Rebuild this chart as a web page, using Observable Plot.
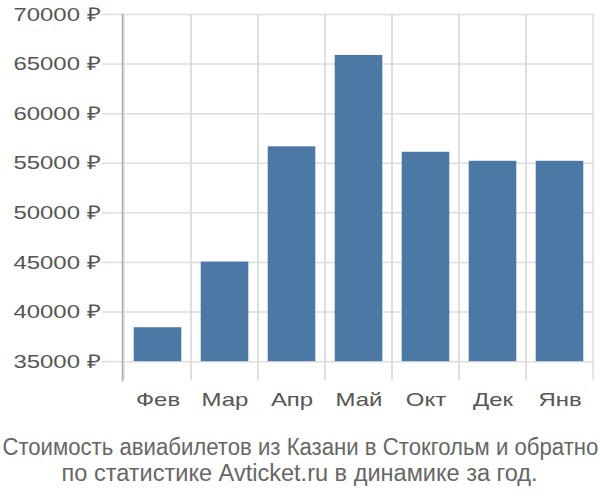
<!DOCTYPE html>
<html>
<head>
<meta charset="utf-8">
<script src="https://cdn.jsdelivr.net/npm/d3@7"></script>
<script src="https://cdn.jsdelivr.net/npm/@observablehq/plot@0.6"></script>
<style>
  html, body { margin: 0; padding: 0; background: #fff; }
  #chart svg { display: block; }
  #caption {
    width: 600px;
    margin-top: 14px;
    font-family: "Liberation Sans", Arial, sans-serif;
    font-size: 23px;
    line-height: 26px;
    color: #666;
  }
  #caption div { display: flex; justify-content: center; white-space: nowrap; width: 600px; }
  #caption span { display: inline-block; flex: none; transform-origin: 50% 50%; }
</style>
</head>
<body>
<div id="chart"></div>
<div id="caption">
  <div><span id="cap1">Стоимость авиабилетов из Казани в Стокгольм и обратно</span></div>
  <div><span id="cap2">по статистике Avticket.ru в динамике за год.</span></div>
</div>
<script>
const months = ["Фев", "Мар", "Апр", "Май", "Окт", "Дек", "Янв"];
const prices = [38420, 45040, 56660, 65870, 56110, 55200, 55200];
const yTicks = [35000, 40000, 45000, 50000, 55000, 60000, 65000, 70000];
const yDomain = [33100, 70000];
const baseline = 35000;

const data = months.map((m, i) => ({month: m, price: prices[i]}));

const chart = Plot.plot({
  width: 600,
  height: 420,
  marginLeft: 122,
  marginRight: 6,
  marginTop: 14,
  marginBottom: 40,
  style: {fontFamily: "Liberation Sans, Arial, sans-serif", fontSize: "19px", color: "#555", background: "#fff"},
  x: {domain: months, padding: 0, label: null},
  y: {domain: yDomain, label: null},
  marks: [
    Plot.gridY(yTicks, {stroke: "#ddd", strokeOpacity: 1, strokeWidth: 1.5}),
    Plot.barY(months, {x: d => d, y1: 30000, y2: yDomain[1], fill: "none", stroke: "#ddd", strokeWidth: 1.5, clip: "frame"}),
    Plot.barY(data, {x: "month", y1: baseline, y2: "price", fill: "#4c78a6", insetLeft: 9.7, insetRight: 9.7}),
    Plot.axisY(yTicks, {tickSize: 20, tickPadding: 2, tickFormat: d => d + " ₽", stroke: "#ddd", strokeOpacity: 1, strokeWidth: 1.5, fill: "#555", fontSize: 19, label: null}),
    Plot.axisX({tickSize: 0, tickPadding: 12, fill: "#555", fontSize: 19, label: null}),
    Plot.frame({anchor: "left", stroke: "#aaa", strokeWidth: 1.5})
  ]
});
document.getElementById("chart").appendChild(chart);

// widen glyphs horizontally like the reference rendering
chart.querySelectorAll("text").forEach(t => {
  const len = t.getComputedTextLength();
  if (len > 0) {
    t.setAttribute("textLength", (len * 1.26).toFixed(1));
    t.setAttribute("lengthAdjust", "spacingAndGlyphs");
  }
});

// fit caption lines to the reference widths
const c1 = document.getElementById("cap1");
const c2 = document.getElementById("cap2");
c1.style.transform = `scaleX(${596 / c1.getBoundingClientRect().width})`;
c2.style.transform = `scaleX(${476 / c2.getBoundingClientRect().width})`;
</script>
</body>
</html>
